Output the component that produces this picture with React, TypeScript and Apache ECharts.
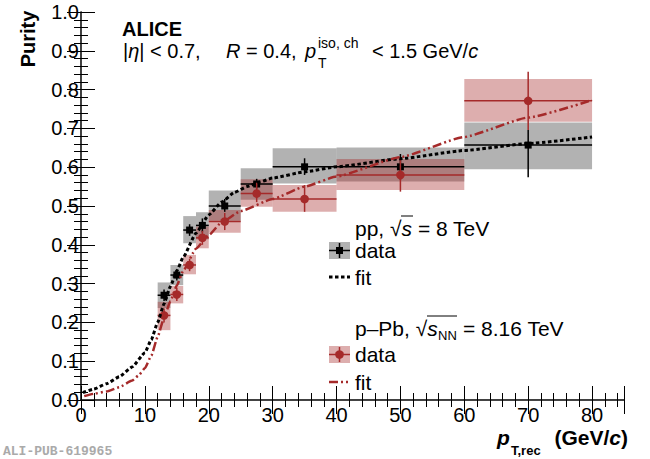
import { useEffect, useRef } from 'react';
import * as echarts from 'echarts';

// pT bins (GeV/c)
const binLow = [12, 14, 16, 18, 20, 25, 30, 40, 60];
const binHigh = [14, 16, 18, 20, 25, 30, 40, 60, 80];
const binCenter = [13, 15, 17, 19, 22.5, 27.5, 35, 50, 70];

// pp, sqrt(s) = 8 TeV
const ppPurity = [0.27, 0.322, 0.438, 0.45, 0.5, 0.557, 0.601, 0.601, 0.657];
const ppStatLow = [0.255, 0.308, 0.423, 0.432, 0.485, 0.545, 0.58, 0.568, 0.574];
const ppStatHigh = [0.285, 0.336, 0.453, 0.468, 0.518, 0.57, 0.623, 0.634, 0.696];
const ppSysLow = [0.237, 0.296, 0.404, 0.414, 0.462, 0.516, 0.558, 0.563, 0.595];
const ppSysHigh = [0.303, 0.348, 0.474, 0.484, 0.54, 0.597, 0.649, 0.651, 0.715];

// p-Pb, sqrt(sNN) = 8.16 TeV
const pPbPurity = [0.218, 0.272, 0.348, 0.418, 0.46, 0.532, 0.518, 0.58, 0.771];
const pPbStatLow = [0.2, 0.255, 0.332, 0.4, 0.438, 0.51, 0.485, 0.537, 0.696];
const pPbStatHigh = [0.236, 0.289, 0.364, 0.436, 0.482, 0.56, 0.554, 0.619, 0.846];
const pPbSysLow = [0.18, 0.249, 0.324, 0.391, 0.431, 0.498, 0.485, 0.541, 0.717];
const pPbSysHigh = [0.253, 0.294, 0.374, 0.447, 0.49, 0.569, 0.554, 0.621, 0.827];

// fit curves
const ppFitX = [0.3, 2, 4, 6, 8, 10, 11, 12, 13, 14, 15, 16, 18, 20, 22, 24, 26, 28, 30, 35, 40, 50, 60, 70, 80];
const ppFitY = [0.019, 0.028, 0.042, 0.06, 0.085, 0.122, 0.155, 0.2, 0.248, 0.293, 0.333, 0.368, 0.43, 0.477, 0.51, 0.535, 0.55, 0.562, 0.572, 0.588, 0.601, 0.622, 0.643, 0.661, 0.678];
const pPbFitX = [0.5, 2, 4, 6, 8, 9, 10, 11, 12, 13, 14, 15, 16, 18, 20, 22, 25, 30, 35, 40, 50, 60, 70, 80];
const pPbFitY = [0.01, 0.016, 0.022, 0.033, 0.05, 0.063, 0.082, 0.114, 0.163, 0.212, 0.255, 0.295, 0.333, 0.39, 0.425, 0.458, 0.487, 0.518, 0.55, 0.576, 0.626, 0.678, 0.728, 0.773];

const xTicks = [0, 10, 20, 30, 40, 50, 60, 70, 80];

const FONT = 'Liberation Sans, Arial, Helvetica, sans-serif';
const RED = '#a52a2a';
const RED_BOX = 'rgba(165, 42, 42, 0.38)';
const GRAY_BOX = 'rgba(0, 0, 0, 0.3)';

const boxData = (sysLo: number[], sysHi: number[]) =>
  binLow.map((lo, i) => [lo, binHigh[i], sysLo[i], sysHi[i]]);

const pointData = (y: number[], lo: number[], hi: number[]) =>
  binCenter.map((x, i) => [x, y[i], binLow[i], binHigh[i], lo[i], hi[i]]);

const renderBox = (fill: string) => (params: any, api: any) => {
  const p1 = api.coord([api.value(0), api.value(3)]);
  const p2 = api.coord([api.value(1), api.value(2)]);
  return {
    type: 'rect',
    shape: { x: p1[0], y: p1[1], width: p2[0] - p1[0], height: p2[1] - p1[1] },
    style: { fill },
  };
};

const renderPoint = (color: string, square: boolean) => (params: any, api: any) => {
  const c = api.coord([api.value(0), api.value(1)]);
  const xl = api.coord([api.value(2), api.value(1)]);
  const xh = api.coord([api.value(3), api.value(1)]);
  const yl = api.coord([api.value(0), api.value(4)]);
  const yh = api.coord([api.value(0), api.value(5)]);
  const line = { stroke: color, lineWidth: 1.5 };
  return {
    type: 'group',
    children: [
      { type: 'line', shape: { x1: xl[0], y1: c[1], x2: xh[0], y2: c[1] }, style: line },
      { type: 'line', shape: { x1: c[0], y1: yl[1], x2: c[0], y2: yh[1] }, style: line },
      square
        ? { type: 'rect', shape: { x: c[0] - 3.5, y: c[1] - 3.5, width: 7, height: 7 }, style: { fill: color } }
        : { type: 'circle', shape: { cx: c[0], cy: c[1], r: 4.3 }, style: { fill: color } },
    ],
  };
};

const tickLine = { color: '#000', width: 1 };

const txt = (x: number, y: number, text: string, extra: any = {}) => ({
  type: 'text',
  x,
  y,
  style: {
    text,
    fontFamily: FONT,
    fontSize: 21,
    fill: '#000',
    verticalAlign: 'middle',
    ...extra,
  },
});

const mkRich = (size: number) => ({
  a: { fontFamily: FONT, fontSize: size },
  i: { fontFamily: FONT, fontSize: size, fontStyle: 'italic' },
});

const App = () => {
  const chartRef = useRef<HTMLDivElement>(null);

  useEffect(() => {
    if (!chartRef.current) return;
    const chart = echarts.init(chartRef.current, null, { renderer: 'svg' });

    const option: any = {
      animation: false,
      textStyle: { fontFamily: FONT },
      grid: { left: 81, right: 26, top: 12, bottom: 59 },
      xAxis: [
        {
          type: 'value',
          min: 0,
          max: 85,
          interval: 10,
          position: 'bottom',
          axisLine: { show: true, lineStyle: { color: '#000', width: 1.5 } },
          axisTick: { inside: true, length: 14, lineStyle: tickLine },
          minorTick: { show: true, splitNumber: 5, length: 7, lineStyle: tickLine },
          splitLine: { show: false },
          axisLabel: {
            fontSize: 20,
            color: '#000',
            margin: 5,
            fontFamily: FONT,
            showMaxLabel: false,
            formatter: (v: number) => (xTicks.includes(v) ? String(v) : ''),
          },
        },
        {
          type: 'value',
          min: 0,
          max: 85,
          interval: 10,
          position: 'top',
          axisLine: { show: true, lineStyle: { color: '#444', width: 1 } },
          axisTick: { inside: true, length: 14, lineStyle: tickLine },
          minorTick: { show: true, splitNumber: 5, length: 7, lineStyle: tickLine },
          splitLine: { show: false },
          axisLabel: { show: false },
        },
      ],
      yAxis: [
        {
          type: 'value',
          min: 0,
          max: 1,
          interval: 0.1,
          position: 'left',
          axisLine: { show: true, lineStyle: { color: '#000', width: 1.5 } },
          axisTick: { inside: true, length: 14, lineStyle: tickLine },
          minorTick: { show: true, splitNumber: 5, length: 7, lineStyle: tickLine },
          splitLine: { show: false },
          axisLabel: {
            fontSize: 20,
            color: '#000',
            margin: 2,
            fontFamily: FONT,
            formatter: (v: number) => v.toFixed(1),
          },
        },
        {
          type: 'value',
          min: 0,
          max: 1,
          interval: 0.1,
          position: 'right',
          axisLine: { show: true, lineStyle: { color: '#444', width: 1 } },
          axisTick: { inside: true, length: 14, lineStyle: tickLine },
          minorTick: { show: true, splitNumber: 5, length: 7, lineStyle: tickLine },
          splitLine: { show: false },
          axisLabel: { show: false },
        },
      ],
      series: [
        {
          name: 'pp sys',
          type: 'custom',
          renderItem: renderBox(GRAY_BOX),
          data: boxData(ppSysLow, ppSysHigh),
          z: 1,
        },
        {
          name: 'p-Pb sys',
          type: 'custom',
          renderItem: renderBox(RED_BOX),
          data: boxData(pPbSysLow, pPbSysHigh),
          z: 1,
        },
        {
          name: 'pp data',
          type: 'custom',
          renderItem: renderPoint('#000', true),
          data: pointData(ppPurity, ppStatLow, ppStatHigh),
          z: 2,
        },
        {
          name: 'p-Pb data',
          type: 'custom',
          renderItem: renderPoint(RED, false),
          data: pointData(pPbPurity, pPbStatLow, pPbStatHigh),
          z: 2,
        },
        {
          name: 'pp fit',
          type: 'line',
          data: ppFitX.map((x, i) => [x, ppFitY[i]]),
          smooth: 0.15,
          smoothMonotone: 'x',
          symbol: 'none',
          lineStyle: { color: '#000', width: 3, type: [3.5, 2.5] },
          z: 3,
        },
        {
          name: 'p-Pb fit',
          type: 'line',
          data: pPbFitX.map((x, i) => [x, pPbFitY[i]]),
          smooth: 0.15,
          smoothMonotone: 'x',
          symbol: 'none',
          lineStyle: { color: RED, width: 2.5, type: [9, 3, 2, 3, 2, 3] },
          z: 3,
        },
      ],
      graphic: [
        // y-axis title
        { ...txt(28, 39, 'Purity', { fontWeight: 'bold', align: 'center', fontSize: 20 }), rotation: Math.PI / 2 },
        // header
        txt(122, 29, 'ALICE', { fontWeight: 'bold', fontSize: 20 }),
        txt(123, 51, '{a||}{i|η}{a|| < 0.7,}', { rich: mkRich(20), fontSize: 20 }),
        txt(226, 51, '{i|R}{a| = 0.4,}', { rich: mkRich(20), fontSize: 20 }),
        txt(305, 51, 'p', { fontStyle: 'italic', fontSize: 20 }),
        txt(318, 43, 'iso, ch', { fontSize: 14 }),
        txt(318, 63, 'T', { fontSize: 14 }),
        txt(372, 51, '{a|< 1.5 GeV/}{i|c}', { rich: mkRich(20), fontSize: 20 }),
        // legend pp
        txt(355, 228, '{a|pp, √}{i|s}{a| = 8 TeV}', { rich: mkRich(21) }),
        { type: 'line', shape: { x1: 401, y1: 216, x2: 413, y2: 216 }, style: { stroke: '#000', lineWidth: 1 } },
        { type: 'rect', shape: { x: 329, y: 242, width: 21, height: 17 }, style: { fill: GRAY_BOX } },
        { type: 'line', shape: { x1: 329, y1: 250.5, x2: 350, y2: 250.5 }, style: { stroke: '#000', lineWidth: 1.5 } },
        { type: 'line', shape: { x1: 339.5, y1: 243, x2: 339.5, y2: 258 }, style: { stroke: '#000', lineWidth: 1.5 } },
        { type: 'rect', shape: { x: 336, y: 247, width: 7, height: 7 }, style: { fill: '#000' } },
        txt(355, 250.5, 'data'),
        { type: 'line', shape: { x1: 329, y1: 277, x2: 350, y2: 277 }, style: { stroke: '#000', lineWidth: 3, lineDash: [3.5, 2.5] } },
        txt(355, 277, 'fit'),
        // legend p-Pb
        txt(355, 328, '{a|p–Pb, √}{i|s}', { rich: mkRich(21) }),
        txt(438, 335, 'NN', { fontSize: 13 }),
        { type: 'line', shape: { x1: 427, y1: 316, x2: 457, y2: 316 }, style: { stroke: '#000', lineWidth: 1 } },
        txt(463, 328, '= 8.16 TeV'),
        { type: 'rect', shape: { x: 329, y: 346, width: 21, height: 17 }, style: { fill: RED_BOX } },
        { type: 'line', shape: { x1: 329, y1: 354.5, x2: 350, y2: 354.5 }, style: { stroke: RED, lineWidth: 1.5 } },
        { type: 'line', shape: { x1: 339.5, y1: 347, x2: 339.5, y2: 362 }, style: { stroke: RED, lineWidth: 1.5 } },
        { type: 'circle', shape: { cx: 339.5, cy: 354.5, r: 4.3 }, style: { fill: RED } },
        txt(355, 354.5, 'data'),
        { type: 'line', shape: { x1: 329, y1: 382, x2: 350, y2: 382 }, style: { stroke: RED, lineWidth: 2.5, lineDash: [9, 3, 2, 3, 2, 3] } },
        txt(355, 382, 'fit'),
        // x-axis title
        txt(497, 437, 'p', { fontWeight: 'bold', fontStyle: 'italic', fontSize: 21 }),
        txt(511, 450, 'T,rec', { fontWeight: 'bold', fontSize: 13 }),
        txt(628, 437, '{b|(GeV/}{bi|c}{b|)}', {
          align: 'right',
          rich: {
            b: { fontFamily: FONT, fontSize: 21, fontWeight: 'bold' },
            bi: { fontFamily: FONT, fontSize: 21, fontWeight: 'bold', fontStyle: 'italic' },
          },
        }),
        // publication id
        txt(3, 451, 'ALI-PUB-619965', {
          fontFamily: 'Liberation Mono, DejaVu Sans Mono, monospace',
          fontWeight: 'bold',
          fontSize: 13,
          fill: '#aaaaaa',
        }),
      ],
    };

    chart.setOption(option);
    return () => chart.dispose();
  }, []);

  return (
    <div
      ref={chartRef}
      style={{ position: 'fixed', left: 0, top: 0, width: 650, height: 459, background: '#fff' }}
    />
  );
};

export default App;
